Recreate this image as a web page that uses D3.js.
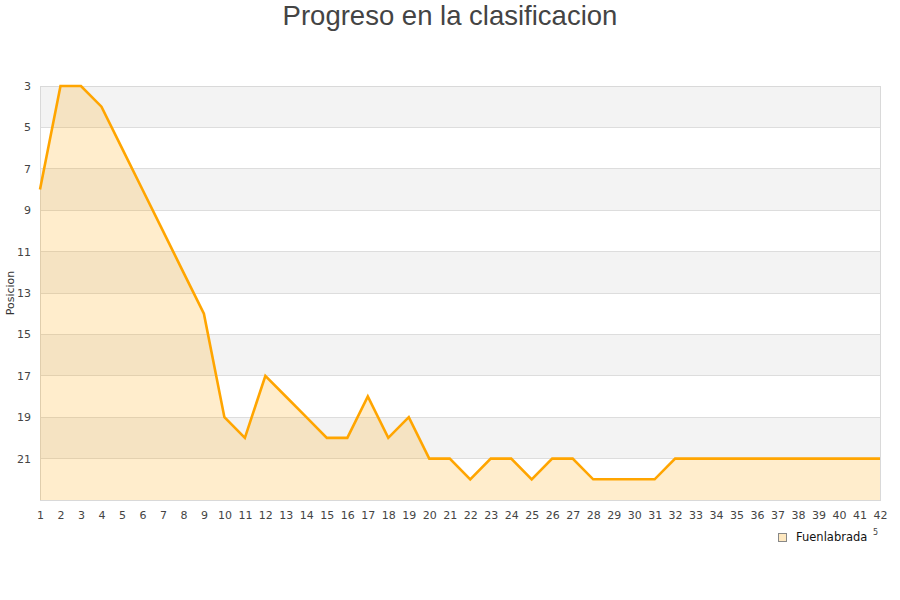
<!DOCTYPE html>
<html><head><meta charset="utf-8">
<script src="https://cdn.jsdelivr.net/npm/d3@7"></script>
<style>body{margin:0;background:#fff}svg{display:block}</style>
</head><body>
<svg id="c" width="900" height="600"></svg>
<script>
const title = "Progreso en la clasificacion";
const seriesName = "Fuenlabrada";
const yTitle = "Posicion";
const jornadas = d3.range(1, 43);
const posiciones = [8,3,3,4,6,8,10,12,14,19,20,17,18,19,20,20,18,20,19,21,21,22,21,21,22,21,21,22,22,22,22,21,21,21,21,21,21,21,21,21,21,21];
const yTicks = [3,5,7,9,11,13,15,17,19,21];
const yDomain = [3, 23];

const svg = d3.select("#c");
const m = {l:40, r:880, t:86, b:500};
const x = d3.scaleLinear().domain([1, 42]).range([m.l, m.r]);
const y = d3.scaleLinear().domain(yDomain).range([m.t, m.b]);

// stripes
for (let i = 0; i < yTicks.length; i += 2) {
  svg.append("rect").attr("x", m.l).attr("width", m.r - m.l)
    .attr("y", y(yTicks[i])).attr("height", y(yTicks[i] + 2) - y(yTicks[i]))
    .attr("fill", "#f3f3f3");
}
// grid
svg.append("g").selectAll("line").data(yTicks.concat([23])).join("line")
  .attr("x1", m.l).attr("x2", m.r).attr("y1", d => y(d)).attr("y2", d => y(d))
  .attr("stroke", "#dddddd").attr("stroke-width", 1).attr("shape-rendering", "crispEdges");
// border
svg.append("rect").attr("x", m.l).attr("y", m.t).attr("width", m.r - m.l).attr("height", m.b - m.t)
  .attr("fill", "none").attr("stroke", "#d9d9d9").attr("shape-rendering", "crispEdges");

// area
const area = d3.area().x((d, i) => x(jornadas[i])).y0(y(yDomain[1])).y1(d => y(d));
svg.append("path").datum(posiciones).attr("d", area).attr("fill", "rgba(255,165,0,0.2)");
const line = d3.line().x((d, i) => x(jornadas[i])).y(d => y(d));
svg.append("path").datum(posiciones).attr("d", line).attr("fill", "none")
  .attr("stroke", "#ffa500").attr("stroke-width", 2.6).attr("stroke-linejoin", "miter");

// axes
const font = "DejaVu Sans, sans-serif";
const yAxis = d3.axisLeft(y).tickValues(yTicks).tickSize(0).tickPadding(9);
const gy = svg.append("g").attr("transform", `translate(${m.l},0)`).call(yAxis);
gy.select(".domain").remove();
gy.selectAll("text").attr("font-family", font).attr("font-size", 11).attr("fill", "#444");

const xAxis = d3.axisBottom(x).tickValues(jornadas).tickSize(0).tickPadding(11).tickFormat(d3.format("d"));
const gx = svg.append("g").attr("transform", `translate(0,${m.b})`).call(xAxis);
gx.select(".domain").remove();
gx.selectAll("text").attr("font-family", font).attr("font-size", 11).attr("fill", "#444");

// title
svg.append("text").attr("x", 450).attr("y", 25).attr("text-anchor", "middle")
  .attr("font-family", "Liberation Sans, Arial, sans-serif").attr("font-size", 27.5).attr("fill", "#444").text(title);

// y title
svg.append("text").attr("transform", `translate(14,293) rotate(-90)`).attr("text-anchor", "middle")
  .attr("font-family", font).attr("font-size", 11).attr("fill", "#333").text(yTitle);

// legend
svg.append("rect").attr("x", 778.5).attr("y", 533.5).attr("width", 8).attr("height", 8)
  .attr("fill", "#fee8c0").attr("stroke", "#888");
svg.append("text").attr("x", 796).attr("y", 541).attr("font-family", font).attr("font-size", 11.5)
  .attr("fill", "#111").text(seriesName);
svg.append("text").attr("x", 873).attr("y", 535).attr("font-family", font).attr("font-size", 8)
  .attr("fill", "#444").text("5");
</script>
</body></html>
